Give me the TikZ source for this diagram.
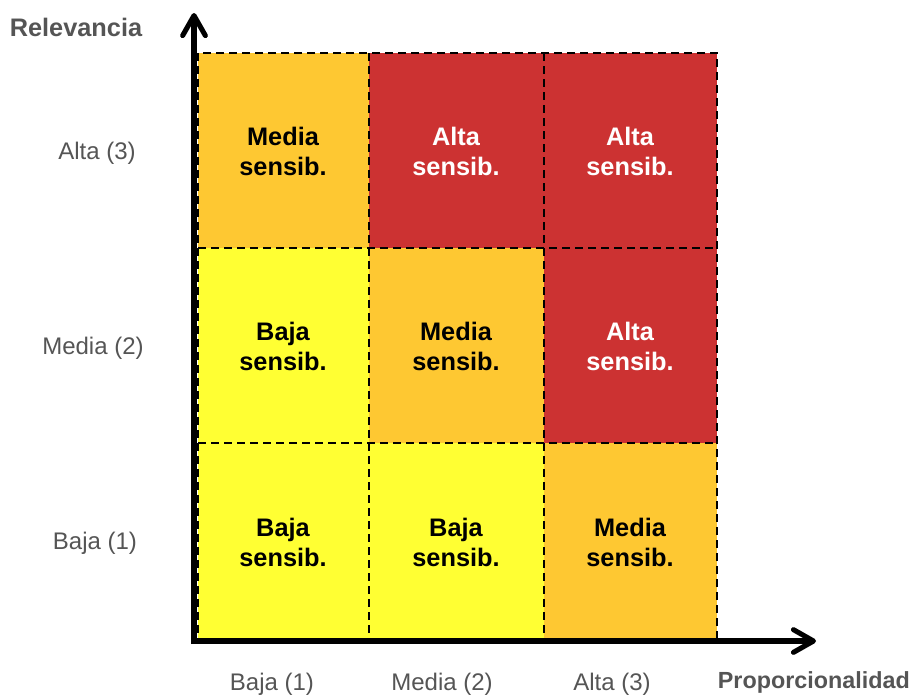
\documentclass[tikz,border=0pt]{standalone}
\usepackage{fontspec}
\setmainfont{Liberation Sans}
\usetikzlibrary{arrows.meta}
\definecolor{lowc}{RGB}{255,255,51}
\definecolor{midc}{RGB}{254,200,50}
\definecolor{highc}{RGB}{204,50,50}
\definecolor{labelgray}{RGB}{85,85,85}
\begin{document}
\begin{tikzpicture}[x=0.75pt,y=-0.75pt,
  cell/.style={draw=black,line width=1.5pt,dash pattern=on 6pt off 3.75pt},
  celltext/.style={font=\bfseries\fontsize{19}{22.5}\selectfont,align=center,text=black},
  hightext/.style={celltext,text=white},
  axislabel/.style={font=\fontsize{18}{20}\selectfont,text=labelgray},
  axistitle/.style={font=\bfseries\fontsize{19}{20}\selectfont,text=labelgray},
  axisline/.style={line width=3.8pt,-{Straight Barb[round,length=15pt,width=17pt,line width=3.8pt]}}]
\useasboundingbox (0,0) rectangle (914,694);

% cell fills
\fill[midc]  (198,53)  rectangle (369,248);
\fill[highc] (369,53)  rectangle (544,248);
\fill[highc] (544,53)  rectangle (717,248);
\fill[lowc]  (198,248) rectangle (369,443);
\fill[midc]  (369,248) rectangle (544,443);
\fill[highc] (544,248) rectangle (717,443);
\fill[lowc]  (198,443) rectangle (369,639);
\fill[lowc]  (369,443) rectangle (544,639);
\fill[midc]  (544,443) rectangle (717,639);

% dashed grid
\draw[cell] (198,53) rectangle (717,639);
\draw[cell] (369,53) -- (369,639);
\draw[cell] (544,53) -- (544,639);
\draw[cell] (198,248) -- (717,248);
\draw[cell] (198,443) -- (717,443);

% cell labels
\node[celltext] (c13) at (283,151) {Media\\sensib.};
\node[hightext] (c23) at (456,151) {Alta\\sensib.};
\node[hightext] (c33) at (630,151) {Alta\\sensib.};
\node[celltext] (c12) at (283,346) {Baja\\sensib.};
\node[celltext] (c22) at (456,346) {Media\\sensib.};
\node[hightext] (c32) at (630,346) {Alta\\sensib.};
\node[celltext] (c11) at (283,542) {Baja\\sensib.};
\node[celltext] (c21) at (456,542) {Baja\\sensib.};
\node[celltext] (c31) at (630,542) {Media\\sensib.};

% axes
\coordinate (origin) at (194,641);
\coordinate (ytip) at (194,13);
\coordinate (xtip) at (816,641);
\draw[axisline] (194,644) -- (ytip);
\draw[axisline] (191,641) -- (xtip);

% axis titles and tick labels
\node[axistitle] (ytitle) at (76,27) {Relevancia};
\node[axistitle,font=\bfseries\fontsize{17.5}{20}\selectfont,anchor=east,inner sep=0pt]
  (xtitle) at (910,682) {Proporcionalidad};
\node[axislabel] (y3) at (97,153) {Alta (3)};
\node[axislabel] (y2) at (93,348) {Media (2)};
\node[axislabel] (y1) at (95,543) {Baja (1)};
\node[axislabel] (x1) at (272,684) {Baja (1)};
\node[axislabel] (x2) at (442,684) {Media (2)};
\node[axislabel] (x3) at (612,684) {Alta (3)};
\end{tikzpicture}
\end{document}
